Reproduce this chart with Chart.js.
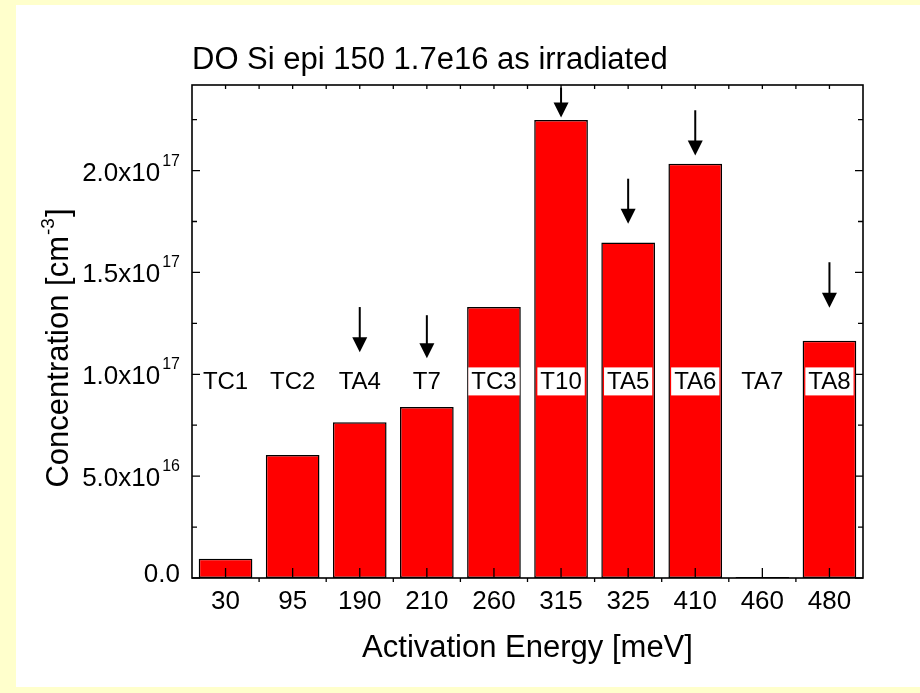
<!DOCTYPE html>
<html>
<head>
<meta charset="utf-8">
<title>DO Si epi 150 1.7e16 as irradiated</title>
<script src="https://cdn.jsdelivr.net/npm/chart.js@4/dist/chart.umd.min.js"></script>
<style>
  html, body { margin: 0; padding: 0; background: #ffffcc; }
  #wrap { position: relative; width: 920px; height: 693px; }
</style>
</head>
<body>
<div id="wrap"><canvas id="trapChart" width="920" height="693"></canvas></div>
<script>
// Trap concentrations per activation energy
const energies = ['30', '95', '190', '210', '260', '315', '325', '410', '460', '480'];
const concentration = [0.95e16, 6.04e16, 7.64e16, 8.39e16, 1.33e17, 2.248e17, 1.647e17, 2.034e17, 0.05e16, 1.164e17];
const trapNames = ['TC1', 'TC2', 'TA4', 'T7', 'TC3', 'T10', 'TA5', 'TA6', 'TA7', 'TA8'];
const trapLabelLevel = 0.965e17;

// Arrows pointing at selected traps (from / to, in cm^-3)
const arrowTraps = ['TA4', 'T7', 'T10', 'TA5', 'TA6', 'TA8'];
const arrowFrom = [1.33e17, 1.29e17, 2.407e17, 1.96e17, 2.296e17, 1.55e17];
const arrowTo = [1.108e17, 1.079e17, 2.26e17, 1.739e17, 2.074e17, 1.327e17];

// Y axis ticks
const yMax = 2.42e17;
const yMajor = [0, 5e16, 1e17, 1.5e17, 2e17];
const yMinor = [2.5e16, 7.5e16, 1.25e17, 1.75e17, 2.25e17];

const FONT = '"Liberation Sans", Arial, sans-serif';

function sciParts(v) {
    if (v === 0) return ['0.0', ''];
    const exp = Math.floor(Math.log10(v));
    return [(v / Math.pow(10, exp)).toFixed(1) + 'x10', String(exp)];
}

// Yellow page with white sheet behind the plot
const sheetPlugin = {
    id: 'sheet',
    beforeDraw(chart) {
        const ctx = chart.ctx;
        ctx.save();
        ctx.fillStyle = '#ffffcc';
        ctx.fillRect(0, 0, chart.width, chart.height);
        ctx.fillStyle = '#ffffff';
        ctx.fillRect(16, 5, chart.width - 16, 682);
        ctx.restore();
    }
};

// Frame, ticks, labels, titles, trap names and arrows
const decorPlugin = {
    id: 'decor',
    afterDraw(chart) {
        const ctx = chart.ctx;
        const area = chart.chartArea;
        const x = chart.scales.x;
        const y = chart.scales.y;
        ctx.save();

        // trap names, boxed in white where they sit on a bar
        ctx.font = '24px ' + FONT;
        ctx.textAlign = 'center';
        ctx.textBaseline = 'middle';
        const ly = y.getPixelForValue(trapLabelLevel);
        trapNames.forEach((name, i) => {
            const cx = x.getPixelForValue(i);
            const w = ctx.measureText(name).width + 6;
            if (concentration[i] > trapLabelLevel) {
                ctx.fillStyle = '#ffffff';
                ctx.fillRect(cx - w / 2, ly - 14, w, 28);
            }
            ctx.fillStyle = '#000000';
            ctx.fillText(name, cx, ly + 1);
        });

        // arrows
        ctx.strokeStyle = '#000000';
        ctx.fillStyle = '#000000';
        arrowTraps.forEach((name, k) => {
            const cx = x.getPixelForValue(trapNames.indexOf(name));
            const y0 = y.getPixelForValue(arrowFrom[k]);
            const y1 = y.getPixelForValue(arrowTo[k]);
            ctx.lineWidth = 2;
            ctx.beginPath();
            ctx.moveTo(cx, y0);
            ctx.lineTo(cx, y1 - 12);
            ctx.stroke();
            ctx.beginPath();
            ctx.moveTo(cx - 7.5, y1 - 15);
            ctx.lineTo(cx + 7.5, y1 - 15);
            ctx.lineTo(cx, y1);
            ctx.closePath();
            ctx.fill();
        });

        // frame
        ctx.lineWidth = 1.6;
        ctx.strokeRect(area.left, area.top, area.right - area.left, area.bottom - area.top);

        // y ticks on both sides, pointing inward
        ctx.lineWidth = 1.3;
        ctx.beginPath();
        yMajor.forEach(v => {
            const py = y.getPixelForValue(v);
            ctx.moveTo(area.left, py); ctx.lineTo(area.left + 8, py);
            ctx.moveTo(area.right, py); ctx.lineTo(area.right - 8, py);
        });
        yMinor.forEach(v => {
            const py = y.getPixelForValue(v);
            ctx.moveTo(area.left, py); ctx.lineTo(area.left + 5, py);
            ctx.moveTo(area.right, py); ctx.lineTo(area.right - 5, py);
        });
        // x ticks: centres inward, category edges outward at the bottom
        const half = (x.getPixelForValue(1) - x.getPixelForValue(0)) / 2;
        energies.forEach((e, i) => {
            const cx = x.getPixelForValue(i);
            ctx.moveTo(cx, area.bottom); ctx.lineTo(cx, area.bottom - 10);
            ctx.moveTo(cx, area.top); ctx.lineTo(cx, area.top + 4);
            const bx = cx + half;
            if (i < energies.length - 1) {
                ctx.moveTo(bx, area.bottom); ctx.lineTo(bx, area.bottom + 4);
                ctx.moveTo(bx, area.top); ctx.lineTo(bx, area.top + 4);
            }
        });
        ctx.stroke();

        // y tick labels with exponents
        ctx.fillStyle = '#000000';
        ctx.textBaseline = 'alphabetic';
        yMajor.forEach(v => {
            const py = y.getPixelForValue(v);
            const [base, exp] = sciParts(v);
            const right = area.left - 12;
            const by = py + (v === 0 ? 4 : 10);
            ctx.textAlign = 'right';
            if (exp) {
                ctx.font = '16px ' + FONT;
                const ew = ctx.measureText(exp).width;
                ctx.fillText(exp, right, by - 15);
                ctx.font = '26px ' + FONT;
                ctx.fillText(base, right - ew - 2, by);
            } else {
                ctx.font = '26px ' + FONT;
                ctx.fillText(base, right, by);
            }
        });

        // x tick labels
        ctx.font = '26px ' + FONT;
        ctx.textAlign = 'center';
        energies.forEach((e, i) => {
            ctx.fillText(e, x.getPixelForValue(i), area.bottom + 31);
        });

        // axis titles
        ctx.font = '31px ' + FONT;
        ctx.fillText('Activation Energy [meV]', (area.left + area.right) / 2, 657);

        ctx.save();
        ctx.translate(68, 348);
        ctx.rotate(-Math.PI / 2);
        ctx.textAlign = 'left';
        const t1 = 'Concentration [cm';
        const t2 = '-3';
        const t3 = ']';
        ctx.font = '31px ' + FONT;
        const w1 = ctx.measureText(t1).width;
        const w3 = ctx.measureText(t3).width;
        ctx.font = '19px ' + FONT;
        const w2 = ctx.measureText(t2).width;
        const sx = -(w1 + w2 + w3 + 2) / 2;
        ctx.font = '31px ' + FONT;
        ctx.fillText(t1, sx, 0);
        ctx.font = '19px ' + FONT;
        ctx.fillText(t2, sx + w1 + 1, -14);
        ctx.font = '31px ' + FONT;
        ctx.fillText(t3, sx + w1 + w2 + 2, 0);
        ctx.restore();

        // chart title
        ctx.textAlign = 'left';
        ctx.font = '31px ' + FONT;
        ctx.fillText('DO Si epi 150 1.7e16 as irradiated', area.left, 69);

        ctx.restore();
    }
};

new Chart(document.getElementById('trapChart'), {
    type: 'bar',
    data: {
        labels: energies,
        datasets: [{
            data: concentration,
            backgroundColor: '#ff0000',
            borderColor: '#000000',
            borderWidth: 1.5,
            borderSkipped: false,
            categoryPercentage: 0.8,
            barPercentage: 1.0
        }]
    },
    options: {
        responsive: false,
        animation: false,
        layout: { padding: { left: 184, right: 57, top: 85, bottom: 107 } },
        plugins: {
            legend: { display: false },
            tooltip: { enabled: false }
        },
        scales: {
            x: {
                grid: { display: false },
                border: { display: false },
                ticks: { display: false }
            },
            y: {
                min: 0,
                max: yMax,
                grid: { display: false },
                border: { display: false },
                ticks: { display: false }
            }
        }
    },
    plugins: [sheetPlugin, decorPlugin]
});
</script>
</body>
</html>
